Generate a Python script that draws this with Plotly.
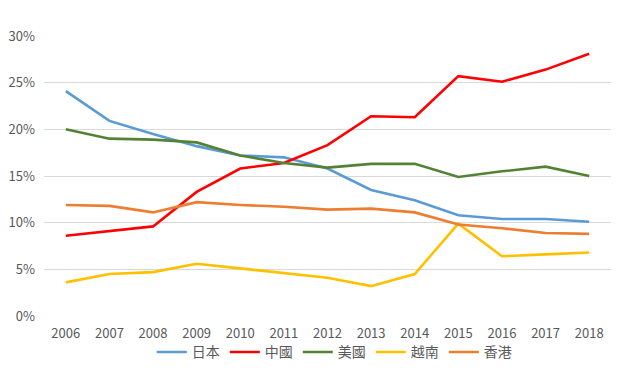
import plotly.graph_objects as go

years = ["2006", "2007", "2008", "2009", "2010", "2011", "2012",
         "2013", "2014", "2015", "2016", "2017", "2018"]
japan = [24.1, 20.9, 19.5, 18.2, 17.2, 17.0, 15.8, 13.5, 12.4, 10.8, 10.4, 10.4, 10.1]
china = [8.6, 9.1, 9.6, 13.3, 15.8, 16.4, 18.3, 21.4, 21.3, 25.7, 25.1, 26.4, 28.1]
usa = [20.0, 19.0, 18.9, 18.6, 17.2, 16.4, 15.9, 16.3, 16.3, 14.9, 15.5, 16.0, 15.0]
vietnam = [3.6, 4.5, 4.7, 5.6, 5.1, 4.6, 4.1, 3.2, 4.5, 9.9, 6.4, 6.6, 6.8]
hongkong = [11.9, 11.8, 11.1, 12.2, 11.9, 11.7, 11.4, 11.5, 11.1, 9.8, 9.4, 8.9, 8.8]

series = [
    ("日本", japan, "#5B9BD5"),
    ("中國", china, "#FF0000"),
    ("美國", usa, "#548235"),
    ("越南", vietnam, "#FFC000"),
    ("香港", hongkong, "#ED7D31"),
]

fig = go.Figure()
for name, vals, color in series:
    fig.add_trace(go.Scatter(
        x=years, y=[v / 100 for v in vals], name=name, mode="lines",
        line=dict(color=color, width=2.6),
    ))

font_family = "Noto Sans CJK TC, sans-serif"
fig.update_layout(
    width=621, height=390,
    margin=dict(l=36, r=18, t=28, b=82),
    paper_bgcolor="white", plot_bgcolor="white",
    font=dict(family=font_family, size=13, color="#595959"),
    showlegend=True,
    legend=dict(orientation="h", x=0.512, xanchor="center", y=-0.13, yanchor="middle",
                bgcolor="rgba(0,0,0,0)",
                font=dict(size=14, color="#595959"), itemwidth=30, tracegroupgap=0,
                entrywidth=28, entrywidthmode="pixels"),
    xaxis=dict(type="category", range=[-0.5, 12.5], showgrid=False, showline=False,
               ticks="", automargin=False, ticklabelstandoff=8,
               tickfont=dict(size=13, color="#595959")),
    yaxis=dict(range=[0, 0.30], dtick=0.05, tickformat=".0%", showgrid=True,
               gridcolor="#D9D9D9", gridwidth=1, zeroline=False, showline=False,
               ticks="", automargin=False, ticklabelstandoff=8,
               tickfont=dict(size=13, color="#595959")),
)

fig.write_html("out.html")
